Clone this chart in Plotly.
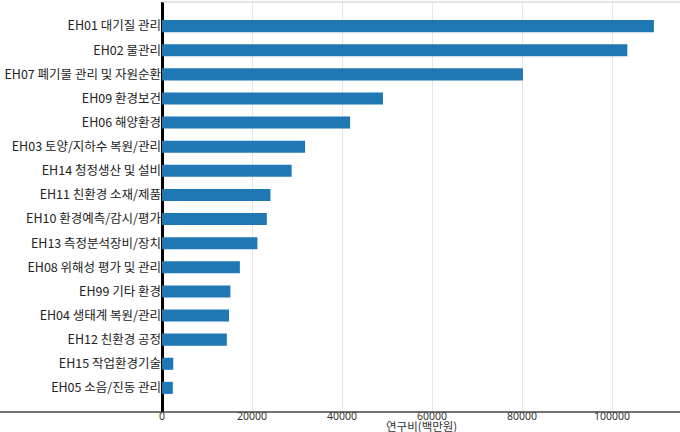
import plotly.graph_objects as go

categories = [
    "EH01 대기질 관리", "EH02 물관리", "EH07 폐기물 관리 및 자원순환", "EH09 환경보건",
    "EH06 해양환경", "EH03 토양/지하수 복원/관리", "EH14 청정생산 및 설비",
    "EH11 친환경 소재/제품", "EH10 환경예측/감시/평가", "EH13 측정분석장비/장치",
    "EH08 위해성 평가 및 관리", "EH99 기타 환경", "EH04 생태계 복원/관리",
    "EH12 친환경 공정", "EH15 작업환경기술", "EH05 소음/진동 관리",
]
values = [109300, 103400, 80200, 49100, 41800, 31800, 28800, 24100,
          23300, 21200, 17300, 15200, 14900, 14400, 2500, 2400]
x_ticks = [0, 20000, 40000, 60000, 80000, 100000]
x_title = "연구비(백만원)"

cats_r = categories[::-1]
vals_r = values[::-1]

FONT = "Noto Sans CJK KR, Noto Sans, sans-serif"

fig = go.Figure(go.Bar(
    y=cats_r, x=vals_r, orientation="h",
    marker=dict(color="#1f77b4", line=dict(width=0)),
    width=0.5,
))

fig.update_layout(
    width=680, height=432,
    margin=dict(l=162, r=0, t=2, b=20),
    paper_bgcolor="white", plot_bgcolor="white",
    showlegend=False,
    font=dict(family=FONT, size=11, color="#222"),
    xaxis=dict(
        range=[0, 115100], tickvals=x_ticks, tickformat="d",
        showgrid=True, gridcolor="#e6e6e6", gridwidth=1,
        zeroline=True, zerolinecolor="black", zerolinewidth=3,
        showline=False, ticks="", automargin=False,
        ticklabelstandoff=-4,
        tickfont=dict(family="Noto Sans, sans-serif", size=10.5, color="#333"),
    ),
    yaxis=dict(
        range=[-1.0, 16.0], automargin=False,
        showgrid=False, zeroline=False, showline=False, ticks="",
        tickfont=dict(size=12.5, color="#222"),
    ),
    shapes=[
        dict(type="line", xref="paper", yref="paper", x0=-162/518, x1=1, y0=0, y1=0,
             line=dict(color="#444", width=1.5)),
        dict(type="line", xref="paper", yref="paper", x0=0, x1=1, y0=1, y1=1,
             line=dict(color="#cccccc", width=1)),
    ],
    annotations=[
        dict(text=x_title, xref="paper", yref="paper", x=0.5, y=0, yshift=-14,
             showarrow=False, yanchor="middle", font=dict(size=11.5, color="#333")),
    ],
)

fig.write_html("out.html", config={"displayModeBar": False},
               post_script="document.body.style.margin='0';")
